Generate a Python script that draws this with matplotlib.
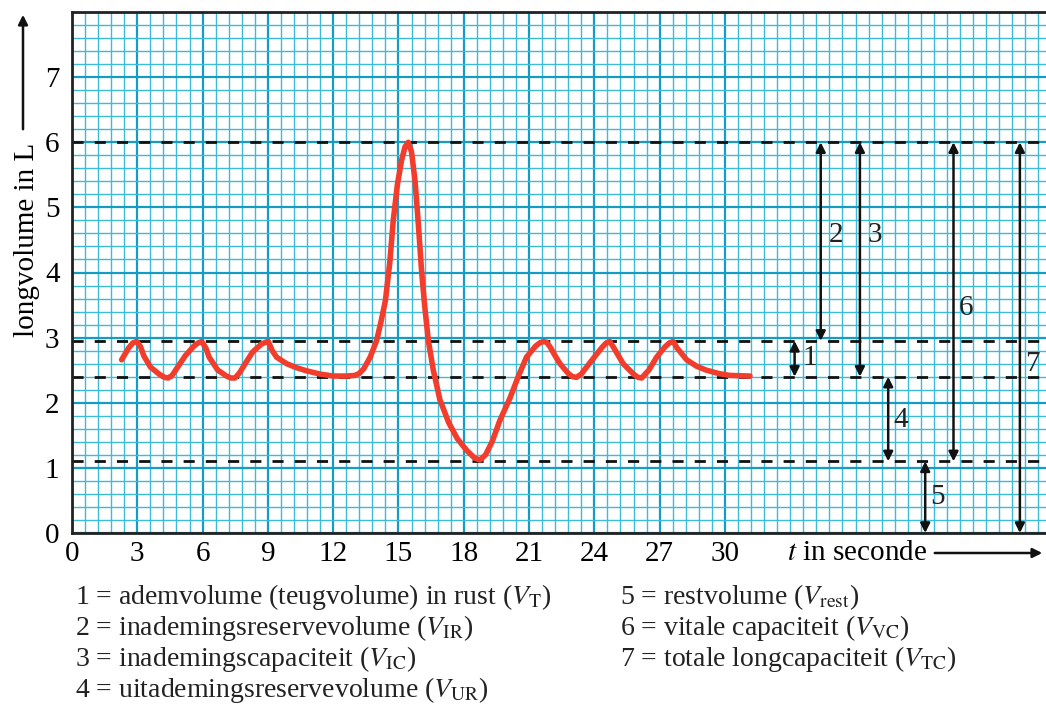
import numpy as np
import matplotlib
matplotlib.use('Agg')
import matplotlib.pyplot as plt
from matplotlib.ticker import MultipleLocator

plt.rcParams['font.family'] = ['Liberation Serif', 'DejaVu Serif']
plt.rcParams['mathtext.fontset'] = 'stix'

# spirogram curve (t in s, volume in L)
t = [2.28, 2.6, 2.8, 2.97, 3.15, 3.3, 3.6, 4.0, 4.25, 4.42, 4.6, 4.8, 5.2, 5.6, 5.8, 5.96,
     6.15, 6.3, 6.7, 7.1, 7.3, 7.49, 7.7, 7.9, 8.3, 8.7, 8.9, 9.02,
     9.2, 9.4, 9.86, 10.3, 10.78, 11.4, 12.0, 12.6, 13.0, 13.2, 13.4, 13.7, 14.0,
     14.2, 14.4, 14.6, 14.76, 14.95, 15.14, 15.3, 15.45, 15.6, 15.76, 15.9, 16.06,
     16.2, 16.37, 16.6, 16.9, 17.3, 17.7, 18.13, 18.5, 18.74, 19.0, 19.3,
     19.66, 20.12, 20.5, 20.88, 21.3, 21.5, 21.65, 21.8, 21.96, 22.2, 22.42,
     22.8, 23.0, 23.18, 23.4, 23.6, 23.95, 24.35, 24.55, 24.71, 24.9, 25.32, 25.8, 26.0, 26.17, 26.5,
     26.86, 27.25, 27.45, 27.62, 27.8, 28.24, 28.7, 29.15, 29.7, 30.2, 31.15]
v = [2.66, 2.84, 2.92, 2.94, 2.86, 2.72, 2.55, 2.44, 2.39, 2.38, 2.42, 2.52, 2.72, 2.87, 2.92, 2.94,
     2.84, 2.7, 2.5, 2.41, 2.38, 2.38, 2.46, 2.57, 2.78, 2.9, 2.93, 2.94,
     2.8, 2.7, 2.6, 2.54, 2.49, 2.44, 2.41, 2.41, 2.42, 2.45, 2.52, 2.7, 2.96,
     3.25, 3.57, 4.15, 4.8, 5.35, 5.72, 5.93, 6.0, 5.85, 5.41, 4.8, 4.03,
     3.5, 2.96, 2.5, 2.05, 1.7, 1.45, 1.27, 1.15, 1.12, 1.2, 1.4,
     1.73, 2.07, 2.4, 2.7, 2.87, 2.92, 2.94, 2.93, 2.86, 2.72, 2.6,
     2.45, 2.4, 2.39, 2.44, 2.53, 2.68, 2.85, 2.92, 2.94, 2.84, 2.6, 2.44, 2.39, 2.38, 2.5,
     2.7, 2.86, 2.92, 2.94, 2.84, 2.66, 2.56, 2.5, 2.45, 2.42, 2.41]

levels = [6.0, 2.95, 2.4, 1.1]

# arrows: x position, bottom, top, label and label position
arrow_x = [33.2, 34.4, 36.2, 37.5, 39.2, 40.5, 43.55]
arrow_lo = [2.4, 2.95, 2.4, 1.1, 0.0, 1.1, 0.0]
arrow_hi = [2.95, 6.0, 6.0, 2.4, 1.1, 6.0, 6.0]
arrow_lab = ['1', '2', '3', '4', '5', '6', '7']
lab_x = [33.55, 34.75, 36.55, 37.75, 39.45, 40.75, 43.8]
lab_y = [2.68, 4.57, 4.57, 1.73, 0.55, 3.45, 2.6]

legend_left = [r'1 = ademvolume (teugvolume) in rust ($V_{\mathrm{T}}$)',
               r'2 = inademingsreservevolume ($V_{\mathrm{IR}}$)',
               r'3 = inademingscapaciteit ($V_{\mathrm{IC}}$)',
               r'4 = uitademingsreservevolume ($V_{\mathrm{UR}}$)']
legend_right = [r'5 = restvolume ($V_{\mathrm{rest}}$)',
                r'6 = vitale capaciteit ($V_{\mathrm{VC}}$)',
                r'7 = totale longcapaciteit ($V_{\mathrm{TC}}$)']

fig = plt.figure(figsize=(10.46, 7.04), dpi=100)
ax = fig.add_axes([72/1046, 1-533/704, 1-72/1046, (533-12)/704])
ax.set_xlim(0, 44.75)
ax.set_ylim(0, 8)

ax.xaxis.set_major_locator(MultipleLocator(3))
ax.xaxis.set_minor_locator(MultipleLocator(0.6))
ax.yaxis.set_major_locator(MultipleLocator(1))
ax.yaxis.set_minor_locator(MultipleLocator(0.2))
ax.grid(which='minor', color='#3dbcd8', lw=1.0)
ax.grid(which='major', color='#159cc4', lw=1.6)
ax.set_axisbelow(True)
ax.tick_params(which='both', length=0, labelsize=21)
ax.tick_params(axis='x', pad=6)
ax.tick_params(axis='y', pad=9)
ax.set_xticks(range(0, 31, 3))
ax.set_yticks(range(0, 8))

for s in ['left', 'bottom', 'top']:
    ax.spines[s].set_linewidth(2)
    ax.spines[s].set_color('#222222')
ax.spines['right'].set_visible(False)

for lv in levels:
    ax.axhline(lv, color='#111111', lw=2, ls=(0, (4, 4)))

ax.plot(t, v, color='#f23c2c', lw=4, solid_capstyle='round', solid_joinstyle='round')

for i in range(len(arrow_x)):
    ax.annotate('', xy=(arrow_x[i], arrow_hi[i]), xytext=(arrow_x[i], arrow_lo[i]),
                arrowprops=dict(arrowstyle='<|-|>', color='#111111', lw=1.8,
                                mutation_scale=14, shrinkA=0, shrinkB=0))
    ax.text(lab_x[i], lab_y[i], arrow_lab[i], fontsize=21, ha='left', va='center', color='#222222')

# axis titles with arrows
fig.text(787/1046, 1-553/704, r'$t$ in seconde', fontsize=21, ha='left', va='center')
fig.add_artist(matplotlib.patches.FancyArrowPatch((932/1046, 1-553/704), (1045/1046, 1-553/704),
               transform=fig.transFigure, arrowstyle='-|>', mutation_scale=14, lw=1.8, color='#111111'))
fig.text(27/1046, 1-240/704, 'longvolume in L', fontsize=21, rotation=90, ha='center', va='center')
fig.add_artist(matplotlib.patches.FancyArrowPatch((23/1046, 1-132/704), (23/1046, 1-12/704),
               transform=fig.transFigure, arrowstyle='-|>', mutation_scale=14, lw=1.8, color='#111111'))

for i, s in enumerate(legend_left):
    fig.text(75/1046, 1-(597+31*i)/704, s, fontsize=20, ha='left', va='center', color='#222222')
for i, s in enumerate(legend_right):
    fig.text(620/1046, 1-(597+31*i)/704, s, fontsize=20, ha='left', va='center', color='#222222')

fig.savefig('out.png', dpi=100)
